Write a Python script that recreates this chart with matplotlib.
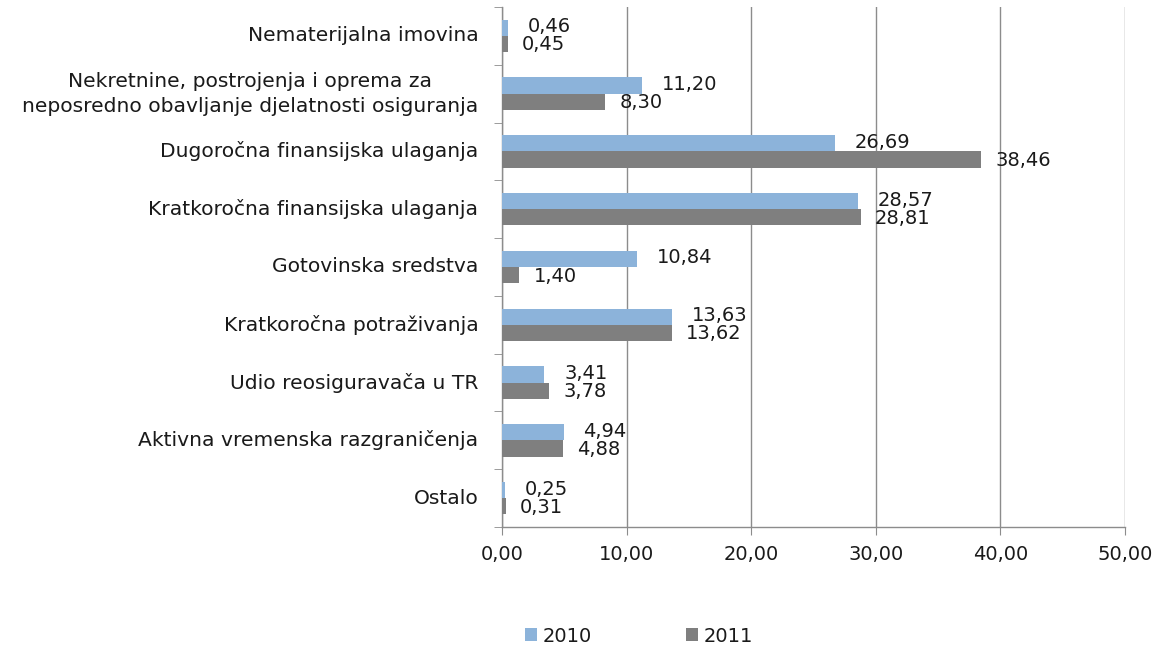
import matplotlib
matplotlib.use("Agg")
import matplotlib.pyplot as plt
import numpy as np

categories = [
    "Nematerijalna imovina",
    "Nekretnine, postrojenja i oprema za\nneposredno obavljanje djelatnosti osiguranja",
    "Dugoročna finansijska ulaganja",
    "Kratkoročna finansijska ulaganja",
    "Gotovinska sredstva",
    "Kratkoročna potraživanja",
    "Udio reosiguravača u TR",
    "Aktivna vremenska razgraničenja",
    "Ostalo",
]
v2010 = [0.46, 11.20, 26.69, 28.57, 10.84, 13.63, 3.41, 4.94, 0.25]
v2011 = [0.45, 8.30, 38.46, 28.81, 1.40, 13.62, 3.78, 4.88, 0.31]
series_names = ["2010", "2011"]
xticks = [0, 10, 20, 30, 40, 50]

c2010 = "#8CB3DA"
c2011 = "#7F7F7F"
grid_c = "#8C8C8C"
txt_c = "#1A1A1A"

plt.rcParams['font.family'] = ['DejaVu Sans']
fig = plt.figure(figsize=(11.55, 6.45), dpi=100)
ax = fig.add_axes([502/1155, 1-527/645, 623/1155, 520/645])

n = len(categories)
y = np.arange(n)
h = 0.28
ax.barh(y - h/2, v2010, height=h, color=c2010, label=series_names[0], zorder=3)
ax.barh(y + h/2, v2011, height=h, color=c2011, label=series_names[1], zorder=3)

fs = 14
def fmt(v):
    return f"{v:.2f}".replace(".", ",")
for i in range(n):
    ax.annotate(fmt(v2010[i]), (v2010[i], y[i] - h/2), xytext=(20, 1), textcoords="offset pixels",
                va="center", ha="left", fontsize=fs, color=txt_c)
    ax.annotate(fmt(v2011[i]), (v2011[i], y[i] + h/2), xytext=(14, -1), textcoords="offset pixels",
                va="center", ha="left", fontsize=fs, color=txt_c)

ax.set_xlim(0, 50)
ax.set_ylim(n - 0.5, -0.5)
ax.set_xticks(xticks)
ax.set_xticklabels([fmt(t) for t in xticks], fontsize=fs, color=txt_c)
ax.set_yticks(y)
ax.set_yticklabels(categories, fontsize=14.6, color=txt_c, multialignment="center", linespacing=1.4)
for lab in ax.get_yticklabels():
    lab.set_va("center")
ax.set_yticks(np.arange(n + 1) - 0.5, minor=True)
ax.tick_params(axis="y", which="major", length=0, pad=17)
ax.tick_params(axis="y", which="minor", length=6, color=grid_c, direction="out")
ax.tick_params(axis="x", length=6, color=grid_c, direction="out", pad=7)

ax.grid(axis="x", color=grid_c, linewidth=1, zorder=0)
for s in ["top", "right"]:
    ax.spines[s].set_visible(False)
for s in ["left", "bottom"]:
    ax.spines[s].set_color(grid_c)
    ax.spines[s].set_linewidth(1)

leg = fig.legend(loc="center", bbox_to_anchor=(639/1155, 1-636/645), ncol=2, frameon=False,
                 fontsize=fs, handlelength=0.65, handleheight=0.65, columnspacing=4.8, handletextpad=0.3)
for t in leg.get_texts():
    t.set_color(txt_c)

fig.savefig("out.png", dpi=100)
